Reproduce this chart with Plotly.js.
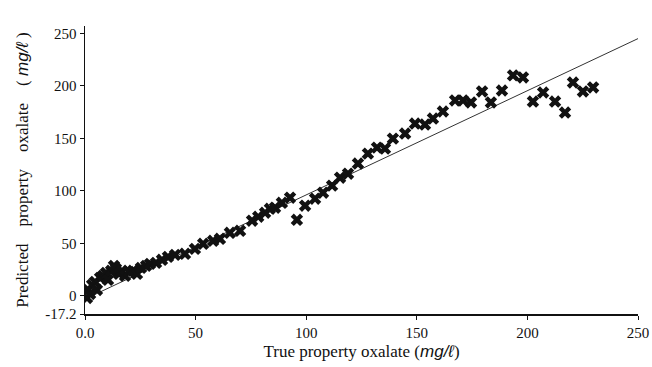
<!DOCTYPE html>
<html>
<head>
<meta charset="utf-8">
<script src="https://cdn.plot.ly/plotly-3.0.1.min.js"></script>
<style>html,body{margin:0;padding:0;background:#fff;}#chart{width:652px;height:367px;}</style>
</head>
<body>
<div id="chart"></div>
<script>
// True vs predicted oxalate (mg/l)
const trueVals = [0.9, 1.4, 2.3, 3.2, 4.5, 5.4, 6.8, 8.1, 9.5, 10.4, 11.8, 13.1, 14.0, 15.4, 16.7, 18.1, 19.9, 21.7, 23.5, 25.3,
  27.6, 29.4, 32.1, 34.8, 37.5, 40.7, 45.2, 49.7, 53.4, 57.9, 61.0, 65.5, 70.1, 75.5, 78.3, 81.4, 83.6, 85.9, 89.0, 92.7,
  95.8, 99.5, 104.0, 107.6, 111.7, 115.3, 118.9, 123.4, 127.9, 132.0, 135.6, 139.2, 144.7, 149.2, 153.7, 157.3, 161.8,
  167.3, 170.9, 174.5, 179.5, 183.5, 188.5, 193.5, 198.0, 202.5, 207.1, 212.5, 217.0, 220.6, 225.1, 229.7];
const predVals = [-1.9, 5.7, 1.9, 10.5, 13.4, 5.7, 17.2, 19.1, 21.9, 15.3, 23.9, 28.6, 25.8, 21.0, 23.9, 19.1, 22.9, 23.9, 21.0, 26.7,
  28.6, 30.5, 31.5, 34.4, 37.2, 39.1, 40.1, 44.8, 49.6, 52.5, 54.4, 60.1, 62.0, 71.6, 75.4, 79.2, 83.0, 84.0, 88.7, 93.5,
  72.5, 85.9, 92.6, 98.3, 105.0, 112.6, 116.4, 126.0, 135.5, 141.2, 140.3, 149.8, 154.6, 164.1, 163.2, 168.9, 175.6,
  186.1, 186.1, 184.2, 194.7, 184.2, 195.6, 210.0, 208.0, 185.1, 193.7, 185.1, 174.6, 203.2, 194.7, 198.5];
// reference line endpoints
const lineX = [0, 250];
const lineY = [-3, 245];
const xTickVals = [0, 50, 100, 150, 200, 250];
const xTickText = ['0.0', '50', '100', '150', '200', '250'];
const yTickVals = [-17.2, 0, 50, 100, 150, 200, 250];
const yTickText = ['-17.2', '0', '50', '100', '150', '200', '250'];

const unit = '<span style="font-family:\'Liberation Sans\',Arial,sans-serif;font-style:italic">mg/ℓ</span>';
const sp = '\u00a0\u00a0\u00a0\u00a0';

const traces = [
  {x: lineX, y: lineY, mode: 'lines', type: 'scatter',
   line: {color: '#333', width: 1}, hoverinfo: 'skip'},
  {x: trueVals, y: predVals, mode: 'markers', type: 'scatter',
   marker: {symbol: 'x', size: 11, color: '#111', line: {width: 0}}}
];

const axisFont = {family: '"Liberation Serif", "Times New Roman", serif', size: 15, color: '#111'};

const layout = {
  width: 652, height: 367,
  margin: {l: 85, r: 14, t: 26, b: 53},
  paper_bgcolor: '#fff', plot_bgcolor: '#fff',
  showlegend: false,
  xaxis: {
    range: [0, 250], tickvals: xTickVals, ticktext: xTickText,
    showgrid: false, zeroline: false, showline: true, linecolor: '#111', linewidth: 1.5,
    ticks: 'outside', ticklen: 4, tickcolor: '#111', tickfont: axisFont,
    title: {text: 'True property oxalate (' + unit + ')', font: {family: axisFont.family, size: 17, color: '#111'}, standoff: 5}
  },
  yaxis: {
    range: [-17.2, 257], tickvals: yTickVals, ticktext: yTickText,
    showgrid: false, zeroline: false, showline: true, linecolor: '#111', linewidth: 1.5,
    ticks: 'outside', ticklen: 4, tickcolor: '#111', tickfont: axisFont,
    title: {text: 'Predicted' + sp + 'property' + sp + 'oxalate' + sp + '( ' + unit + ' )', font: {family: axisFont.family, size: 17, color: '#111'}, standoff: 12}
  }
};

Plotly.newPlot('chart', traces, layout, {displayModeBar: false, staticPlot: true});
</script>
</body>
</html>
